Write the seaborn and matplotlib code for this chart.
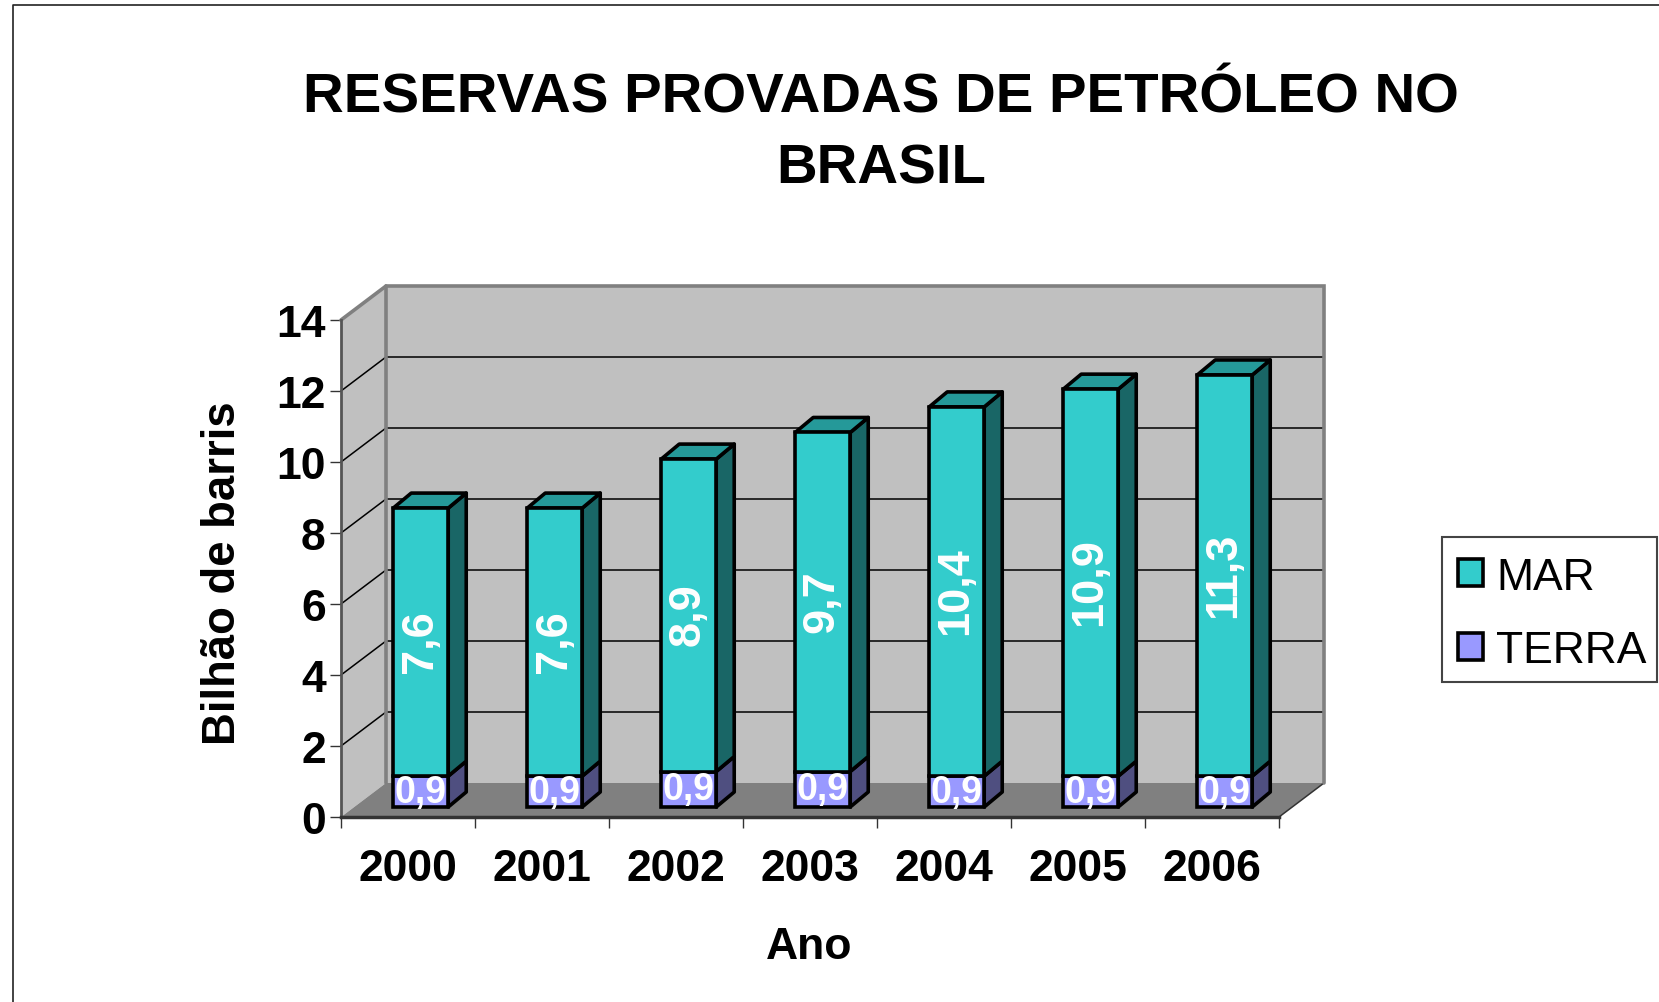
import numpy as np
import pandas as pd
import matplotlib
matplotlib.use("Agg")
import matplotlib.pyplot as plt
from matplotlib.patches import Polygon, Rectangle
from matplotlib.lines import Line2D
import seaborn as sns

anos = ["2000", "2001", "2002", "2003", "2004", "2005", "2006"]
mar = [7.55, 7.55, 8.8, 9.55, 10.4, 10.9, 11.3]
terra = [0.87, 0.87, 1.0, 1.0, 0.87, 0.87, 0.87]
rotulos_mar = ["7,6", "7,6", "8,9", "9,7", "10,4", "10,9", "11,3"]
rotulos_terra = ["0,9"] * 7
yticks = [0, 2, 4, 6, 8, 10, 12, 14]

W, H = 1659, 1003
sns.set_theme(style="white")
plt.rcParams["font.family"] = ["Liberation Sans", "DejaVu Sans"]
plt.rcParams["text.color"] = "black"

fig = plt.figure(figsize=(W / 100, H / 100), dpi=100)
fig.patch.set_facecolor("white")
# plano frontal do grafico, em pixels
x0, x1, y0, y14 = 341, 1279, 818, 321
ax = fig.add_axes([x0 / W, 1 - y0 / H, (x1 - x0) / W, (y0 - y14) / H])
ax.patch.set_visible(False)

df = pd.DataFrame({"ano": anos, "mar": mar, "terra": terra})
px = (7 / (x1 - x0), 14 / (y0 - y14))  # um pixel em unidades de dados
DX, DY = 45 * px[0], 34 * px[1]        # profundidade das paredes
dx, dy = 18 * px[0], 15 * px[1]        # profundidade das barras
shift, base = 0.095, 10 * px[1]
largura = 55 / 134
borda = 2.6

sns.barplot(data=df, x="ano", y="terra", ax=ax, color="#9999FF", saturation=1,
            width=largura, edgecolor="black", linewidth=borda, zorder=4)
n = len(ax.patches)
sns.barplot(data=df, x="ano", y="mar", ax=ax, color="#33CCCC", saturation=1,
            width=largura, edgecolor="black", linewidth=borda, zorder=4)
bars_terra = ax.patches[:n]
bars_mar = ax.patches[n:]
for p, t in zip(bars_terra, terra):
    p.set_x(p.get_x() + shift)
    p.set_y(base)
for p, t in zip(bars_mar, terra):
    p.set_x(p.get_x() + shift)
    p.set_y(base + t)

ax.set_xlim(-0.5, 6.5)
ax.set_ylim(0, 14)


def poly(pts, fc, ec="none", lw=0, z=1):
    ax.add_patch(Polygon(pts, closed=True, fc=fc, ec=ec, lw=lw, zorder=z,
                         clip_on=False, joinstyle="round"))


# paredes e piso
L, R = -0.5, 6.5
poly([(L + DX, DY), (R + DX, DY), (R + DX, 14 + DY), (L + DX, 14 + DY)], "#C0C0C0")
poly([(L, 0), (L + DX, DY), (L + DX, 14 + DY), (L, 14)], "#C0C0C0")
poly([(L, 0), (R, 0), (R + DX, DY), (L + DX, DY)], "#808080")

for v in yticks[1:-1]:
    ax.plot([L, L + DX, R + DX], [v, v + DY, v + DY], color="black", lw=1.1,
            zorder=1.5, clip_on=False, solid_joinstyle="miter")
ax.plot([R, R + DX], [0, DY], color="#333333", lw=1.1, zorder=1.5, clip_on=False)
# bordas cinza das paredes
ax.plot([L, L + DX, R + DX, R + DX], [14, 14 + DY, 14 + DY, DY], color="#808080",
        lw=2.6, zorder=1.6, clip_on=False, solid_joinstyle="miter")
ax.plot([L + DX, L + DX], [DY, 14 + DY], color="#808080", lw=2.6, zorder=1.6, clip_on=False)

# faces laterais e de cima das barras
for bars, lado, topo in ((bars_terra, "#4F4F80", None), (bars_mar, "#196666", "#259999")):
    for p in bars:
        xr = p.get_x() + p.get_width()
        xl = p.get_x()
        yb = p.get_y()
        yt = yb + p.get_height()
        poly([(xr, yb), (xr + dx, yb + dy), (xr + dx, yt + dy), (xr, yt)], lado,
             ec="black", lw=borda, z=3.5)
        if topo:
            poly([(xl, yt), (xr, yt), (xr + dx, yt + dy), (xl + dx, yt + dy)], topo,
                 ec="black", lw=borda, z=3.5)

# rotulos
for p, s in zip(bars_mar, rotulos_mar):
    ax.text(p.get_x() + p.get_width() / 2 - 0.005, p.get_y() + p.get_height() / 2 + 0.04, s,
            rotation=90, ha="center", va="center", color="white",
            fontweight="bold", fontsize=32.5, zorder=6)
for p, s in zip(bars_terra, rotulos_terra):
    ax.text(p.get_x() + p.get_width() / 2, p.get_y() + p.get_height() / 2, s,
            ha="center", va="center", color="white",
            fontweight="bold", fontsize=27, zorder=6)

# eixos
for s in ("top", "right"):
    ax.spines[s].set_visible(False)
ax.spines["left"].set(color="#555555", linewidth=2)
ax.spines["bottom"].set(color="#333333", linewidth=2.5)
ax.set_yticks(yticks)
ax.set_yticklabels([str(v) for v in yticks], fontweight="bold", fontsize=32, color="black")
ax.set_xticks(range(7))
ax.set_xticklabels(anos, fontweight="bold", fontsize=32, color="black")
ax.set_xticks(np.arange(-0.5, 7, 1), minor=True)
ax.tick_params(axis="x", which="major", length=0, pad=22)
ax.tick_params(axis="x", which="minor", length=11 * 0.72, width=1, color="#333333", bottom=True)
ax.tick_params(axis="y", which="major", length=11 * 0.72, width=1, color="#333333", pad=3, left=True)
ax.set_xlabel("")
ax.set_ylabel("")

fig.text(809 / W, 1 - 948 / H, "Ano", ha="center", va="center", fontweight="bold", fontsize=32)
fig.text(223 / W, 1 - 573 / H, "Bilhão de barris", rotation=90, ha="center", va="center",
         fontweight="bold", fontsize=32.8)
fig.text(881 / W, 1 - 134 / H, "RESERVAS PROVADAS DE PETRÓLEO NO\nBRASIL", ha="center", va="center",
         fontweight="bold", fontsize=40.6, linespacing=1.48)

# legenda
fig.add_artist(Rectangle((1442 / W, 1 - 683 / H), 215 / W, 145 / H, transform=fig.transFigure,
                         fc="white", ec="#444444", lw=1.5))
handles = [bars_mar[0], bars_terra[0]]
leg = fig.legend(handles, ["MAR", "TERRA"], loc="center left",
                 bbox_to_anchor=(1436 / W, 1 - 615 / H), frameon=False, fontsize=32,
                 handlelength=0.55, handleheight=0.55, handletextpad=0.3,
                 labelspacing=0.74, borderpad=0)

# moldura
fig.add_artist(Line2D([12.5 / W, 12.5 / W, 1], [0, 1 - 5.5 / H, 1 - 5.5 / H],
                      color="#222222", lw=1.2, transform=fig.transFigure))

fig.savefig("out.png", dpi=100)
